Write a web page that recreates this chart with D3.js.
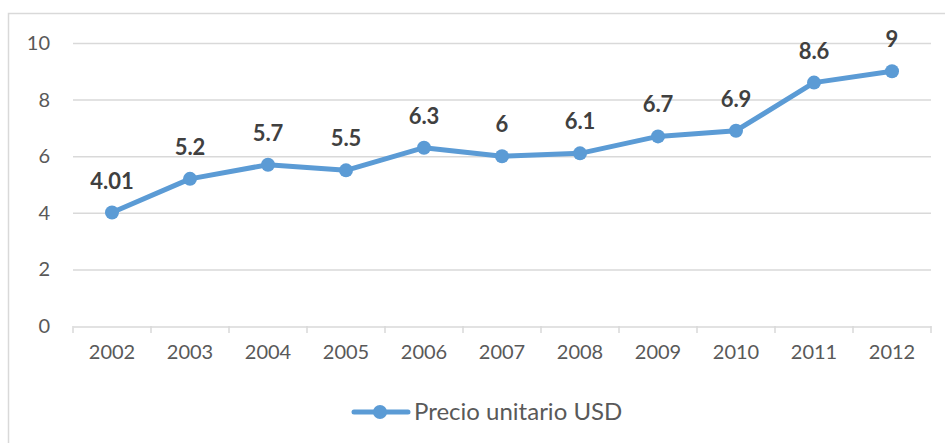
<!DOCTYPE html>
<html><head><meta charset="utf-8">
<script src="https://cdn.jsdelivr.net/npm/d3@7"></script>
<style>body{margin:0;background:#fff;} text{font-family:Lato,"Open Sans",sans-serif;}</style>
</head><body>
<svg id="c" width="945" height="443"></svg>
<script>
const years = ["2002","2003","2004","2005","2006","2007","2008","2009","2010","2011","2012"];
const prices = [4.01,5.2,5.7,5.5,6.3,6,6.1,6.7,6.9,8.6,9];
const labels = ["4.01","5.2","5.7","5.5","6.3","6","6.1","6.7","6.9","8.6","9"];
const yTicks = [0,2,4,6,8,10];
const seriesName = "Precio unitario USD";

const svg = d3.select("#c");
const color = "#5b9bd5";
svg.append("rect").attr("x",8.5).attr("y",13.5).attr("width",960).attr("height",460)
  .attr("fill","#fff").attr("stroke","#d9d9d9").attr("stroke-width",1.5);

const x = d3.scaleBand().domain(years).range([73,931]);
const y = d3.scaleLinear().domain([0,10]).range([326,43]);

// gridlines
svg.append("g").selectAll("line").data(yTicks.filter(d=>d>0)).join("line")
  .attr("x1",73).attr("x2",931).attr("y1",d=>y(d)+0.5).attr("y2",d=>y(d)+0.5)
  .attr("stroke","#d9d9d9").attr("stroke-width",1.5);

// y axis labels
const ya = svg.append("g").attr("transform","translate(50,0)")
  .call(d3.axisLeft(y).tickValues(yTicks).tickSize(0).tickPadding(0));
ya.select(".domain").remove();
ya.selectAll("text").attr("fill","#595959").style("font-size","20px").style("font-family","Lato");

// x axis
const xa = svg.append("g").attr("transform","translate(0,326.5)")
  .call(d3.axisBottom(x).tickSize(0).tickPadding(18));
xa.select(".domain").attr("stroke","#d9d9d9").attr("stroke-width",1.5);
xa.selectAll("text").attr("fill","#595959").style("font-size","20px").style("font-family","Lato");
const bounds = years.map(d=>x(d)).concat([x.range()[1]]);
svg.append("g").selectAll("line").data(bounds).join("line")
  .attr("x1",d=>d).attr("x2",d=>d).attr("y1",326).attr("y2",333)
  .attr("stroke","#d9d9d9").attr("stroke-width",1.5);

const cx = d=>x(d)+x.bandwidth()/2;
const line = d3.line().x((d,i)=>cx(years[i])).y(d=>y(d));
svg.append("path").datum(prices).attr("d",line).attr("fill","none")
  .attr("stroke",color).attr("stroke-width",5).attr("stroke-linejoin","round").attr("stroke-linecap","round");
svg.append("g").selectAll("circle").data(prices).join("circle")
  .attr("cx",(d,i)=>cx(years[i])).attr("cy",d=>y(d)).attr("r",7).attr("fill",color);
svg.append("g").selectAll("text").data(prices).join("text")
  .attr("x",(d,i)=>cx(years[i])).attr("y",d=>y(d)-24)
  .attr("text-anchor","middle").attr("fill","#404040")
  .style("font-size","22px").style("font-weight","bold")
  .text((d,i)=>labels[i]);

// legend
const lg = svg.append("g");
lg.append("line").attr("x1",354).attr("x2",408).attr("y1",412).attr("y2",412)
  .attr("stroke",color).attr("stroke-width",5).attr("stroke-linecap","round");
lg.append("circle").attr("cx",380).attr("cy",412).attr("r",7).attr("fill",color);
lg.append("text").attr("x",414).attr("y",420).attr("fill","#595959")
  .style("font-size","24px").text(seriesName);
</script>
</body></html>
